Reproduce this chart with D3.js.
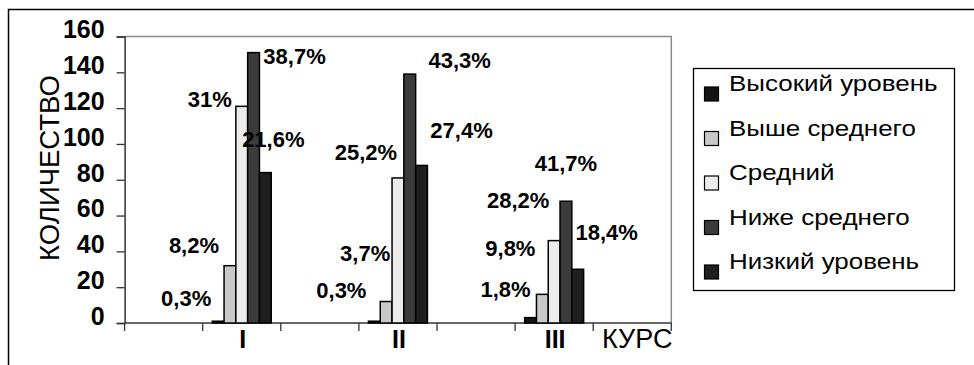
<!DOCTYPE html>
<html>
<head>
<meta charset="utf-8">
<script src="https://cdn.jsdelivr.net/npm/d3@7"></script>
<style>
  body { margin: 0; background: #fff; }
  svg { display: block; }
  text { font-family: "Liberation Sans", Arial, sans-serif; fill: #000; }
</style>
</head>
<body>
<svg id="chart" width="974" height="365"></svg>
<script>
// Categories on the x axis (empty slots separate the three courses)
const courses = ["", "I", "", "II", "", "III", "КУРС"];
const courseSlots = [1, 3, 5];

// Achievement levels (series)
const levels = ["Высокий уровень", "Выше среднего", "Средний", "Ниже среднего", "Низкий уровень"];

// Number of students per level, by course
const countsI   = [1, 32, 121, 151, 84];
const countsII  = [1, 12, 81, 139, 88];
const countsIII = [3, 16, 46, 68, 30];

// Share of students per level, by course (percent)
const percentI   = [0.3, 8.2, 31, 38.7, 21.6];
const percentII  = [0.3, 3.7, 25.2, 43.3, 27.4];
const percentIII = [1.8, 9.8, 28.2, 41.7, 18.4];

// Y axis ticks
const yTicks = [0, 20, 40, 60, 80, 100, 120, 140, 160];

// Fill for each level
const levelColors = ["#141414", "#c8c8c8", "#ececec", "#3b3b3b", "#1f1f1f"];

// Hand-placed label nudges [dx, dy] from the top centre of each bar
const labelNudge = [
  [[-32, -15], [-36, -13], [-32, 1], [41, 11], [8, -26]],
  [[-33, -23], [-21, -41], [-32, -18], [50, -6], [40, -27]],
  [[-25, -21], [-32, -38], [-36, -33], [0, -30], [29, -29]]
];

const counts = [countsI, countsII, countsIII];
const percents = [percentI, percentII, percentIII];

const svg = d3.select("#chart");

// outer frame
svg.append("rect")
  .attr("x", 8.5).attr("y", 9.5)
  .attr("width", 1000).attr("height", 400)
  .attr("fill", "none").attr("stroke", "#000").attr("stroke-width", 1.5);

const plot = { left: 124.6, right: 671.3, top: 36.5, bottom: 323 };

const x = d3.scaleBand()
  .domain(d3.range(courses.length))
  .range([plot.left, plot.right])
  .padding(0);

const xInner = d3.scaleBand()
  .domain(d3.range(levels.length))
  .range([0, x.bandwidth()])
  .paddingInner(0)
  .paddingOuter(0.81);

const y = d3.scaleLinear().domain([0, 160]).range([plot.bottom, plot.top]);

// plot area border (top and right)
svg.append("path")
  .attr("d", `M${plot.left},${plot.top}H${plot.right}V${plot.bottom}`)
  .attr("fill", "none").attr("stroke", "#8a8a8a").attr("stroke-width", 1.5);

// y axis
const yAxis = svg.append("g").attr("transform", `translate(${plot.left},0)`)
  .call(d3.axisLeft(y).tickValues(yTicks).tickSize(8).tickPadding(12));
yAxis.select(".domain").attr("stroke", "#333").attr("stroke-width", 1.5);
yAxis.selectAll(".tick line").attr("stroke", "#333").attr("stroke-width", 1.3);
yAxis.selectAll(".tick text")
  .attr("dy", "0.05em")
  .style("font-family", "'Liberation Sans', Arial, sans-serif")
  .style("font-size", "25px").style("font-weight", "bold");

// x axis: ticks between categories, labels in the middle of each slot
const xAxis = svg.append("g");
xAxis.append("line")
  .attr("x1", plot.left).attr("x2", plot.right)
  .attr("y1", plot.bottom).attr("y2", plot.bottom)
  .attr("stroke", "#333").attr("stroke-width", 1.5);
const boundaries = d3.range(courses.length + 1).map(i =>
  i < courses.length ? x(i) : x(courses.length - 1) + x.bandwidth());
xAxis.selectAll("line.tick").data(boundaries).join("line")
  .attr("class", "tick")
  .attr("x1", d => d).attr("x2", d => d)
  .attr("y1", plot.bottom).attr("y2", plot.bottom + 8)
  .attr("stroke", "#333").attr("stroke-width", 1.3);
xAxis.selectAll("text").data(d3.range(courses.length)).join("text")
  .attr("x", i => x(i) + x.bandwidth() / 2 + (courses[i] === "КУРС" ? 5 : 1))
  .attr("y", 348)
  .attr("text-anchor", "middle")
  .style("font-size", i => courses[i] === "КУРС" ? "27px" : "25px")
  .style("font-weight", i => courses[i] === "КУРС" ? "normal" : "bold")
  .text(i => courses[i]);

// y axis title
svg.append("text")
  .attr("transform", "translate(59,168) rotate(-90)")
  .attr("text-anchor", "middle")
  .style("font-size", "27.5px")
  .text("КОЛИЧЕСТВО");

// bars
const groups = svg.append("g").selectAll("g")
  .data(courseSlots.map((slot, g) => ({ slot, g })))
  .join("g")
  .attr("transform", d => `translate(${x(d.slot)},0)`);

groups.selectAll("rect")
  .data(d => counts[d.g].map((v, k) => ({ v, k })))
  .join("rect")
  .attr("x", d => xInner(d.k))
  .attr("y", d => y(d.v))
  .attr("width", xInner.bandwidth())
  .attr("height", d => y(0) - y(d.v))
  .attr("fill", d => levelColors[d.k])
  .attr("stroke", "#000")
  .attr("stroke-width", 1.5);

// percentage labels
groups.selectAll("text")
  .data(d => percents[d.g].map((p, k) => ({ p, k, v: counts[d.g][k], g: d.g })))
  .join("text")
  .attr("x", d => xInner(d.k) + xInner.bandwidth() / 2 + labelNudge[d.g][d.k][0])
  .attr("y", d => y(d.v) + labelNudge[d.g][d.k][1])
  .attr("text-anchor", "middle")
  .style("font-size", "22px").style("font-weight", "bold")
  .text(d => String(d.p).replace(".", ",") + "%");

// legend
const legend = svg.append("g");
legend.append("rect")
  .attr("x", 693.5).attr("y", 68.5)
  .attr("width", 261).attr("height", 222)
  .attr("fill", "#fff").attr("stroke", "#000").attr("stroke-width", 1.3);
const legendRow = d3.scaleLinear().domain([0, levels.length - 1]).range([91, 269]);
const items = legend.selectAll("g.item").data(levels).join("g").attr("class", "item");
items.append("rect")
  .attr("x", 704.5).attr("y", (d, i) => legendRow(i) - 4)
  .attr("width", 14).attr("height", 14)
  .attr("fill", (d, i) => levelColors[i])
  .attr("stroke", "#000").attr("stroke-width", 1.2);
items.append("text")
  .attr("transform", (d, i) => `translate(729,${legendRow(i)}) scale(1.18,1)`)
  .style("font-size", "22px")
  .text(d => d);
</script>
</body>
</html>
